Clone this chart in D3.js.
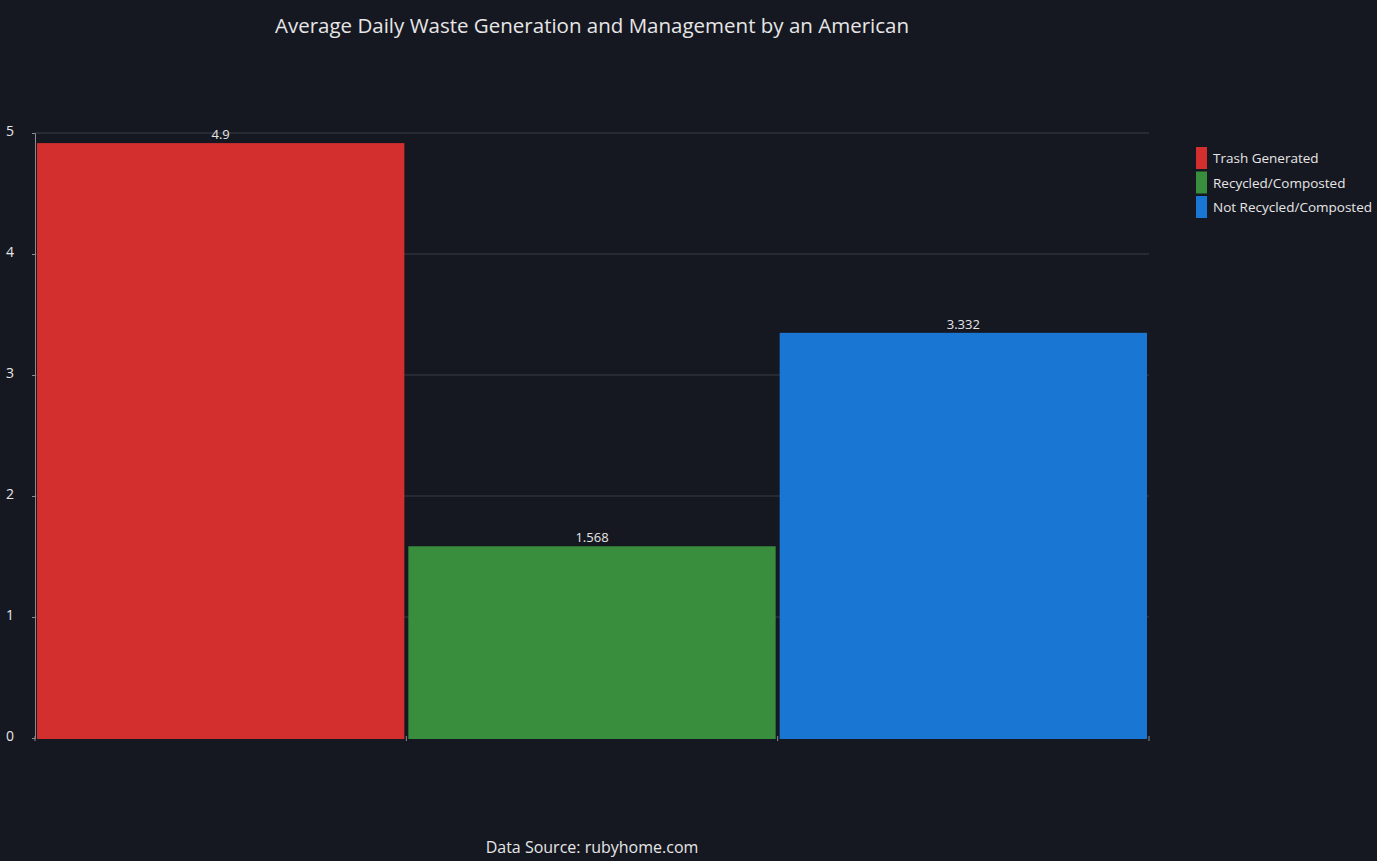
<!DOCTYPE html>
<html>
<head>
<meta charset="utf-8">
<script src="https://cdn.jsdelivr.net/npm/d3@7"></script>
<style>
  body { margin: 0; background: #161821; }
  text { font-family: "Open Sans", "Noto Sans", sans-serif; }
</style>
</head>
<body>
<div id="chart"></div>
<script>
// data
var seriesNames = ["Trash Generated", "Recycled/Composted", "Not Recycled/Composted"];
var seriesValues = [4.9, 1.568, 3.332];
var seriesColors = ["#d32f2f", "#388e3c", "#1976d2"];
var yTicks = [0, 1, 2, 3, 4, 5];

var width = 1377, height = 861;
var plotLeft = 35, plotRight = 1149, plotTop = 133, plotBottom = 738;

var svg = d3.select("#chart").append("svg")
	.attr("width", width)
	.attr("height", height)
	.style("background", "#161821");

var x = d3.scaleBand()
	.domain(seriesNames)
	.range([plotLeft, plotRight])
	.paddingInner(0.0);

var y = d3.scaleLinear()
	.domain([0, 5])
	.range([plotBottom, plotTop]);

// grid lines
svg.append("g")
	.selectAll("line")
	.data(yTicks.slice(1))
	.enter().append("line")
	.attr("x1", plotLeft)
	.attr("x2", plotRight)
	.attr("y1", function(d) { return y(d); })
	.attr("y2", function(d) { return y(d); })
	.style("stroke", "#3a3d46")
	.style("stroke-width", 1);

// bars
svg.append("g")
	.selectAll("rect")
	.data(seriesValues)
	.enter().append("rect")
	.attr("x", function(d, i) { return x(seriesNames[i]) + 2; })
	.attr("width", x.bandwidth() - 4)
	.attr("y", function(d) { return y(d) - 2; })
	.attr("height", function(d) { return y(0) - y(d) + 3; })
	.style("fill", function(d, i) { return seriesColors[i]; });

// value labels
svg.append("g")
	.selectAll("text")
	.data(seriesValues)
	.enter().append("text")
	.attr("x", function(d, i) { return x(seriesNames[i]) + x.bandwidth() / 2; })
	.attr("y", function(d) { return y(d) - 6; })
	.attr("text-anchor", "middle")
	.style("fill", "#e6e6e6")
	.style("font-size", "13px")
	.text(function(d) { return d; });

// y axis
var yAxis = svg.append("g")
	.attr("transform", "translate(" + plotLeft + ",0)")
	.call(d3.axisLeft(y).tickValues(yTicks).tickFormat(d3.format("d")).tickSize(3).tickPadding(16));
yAxis.select(".domain").style("stroke", "#8a8c92");
yAxis.selectAll(".tick line").style("stroke", "#8a8c92");
yAxis.selectAll(".tick text")
	.style("fill", "#e6e6e6")
	.style("font-size", "14px")
	.attr("text-anchor", "start")
	.attr("x", -29)
	.attr("dy", "0.15em");

// x axis ticks at band edges
var xEdges = seriesNames.map(function(d) { return x(d); }).concat([plotRight]);
svg.append("g")
	.selectAll("line")
	.data(xEdges)
	.enter().append("line")
	.attr("x1", function(d) { return d; })
	.attr("x2", function(d) { return d; })
	.attr("y1", plotBottom - 2)
	.attr("y2", plotBottom + 3)
	.style("stroke", "#8a8c92");

// title
svg.append("text")
	.attr("x", 592)
	.attr("y", 33)
	.attr("text-anchor", "middle")
	.style("fill", "#e6e6e6")
	.style("font-size", "20.5px")
	.text("Average Daily Waste Generation and Management by an American");

// source
svg.append("text")
	.attr("x", 592)
	.attr("y", 853)
	.attr("text-anchor", "middle")
	.style("fill", "#e6e6e6")
	.style("font-size", "16px")
	.text("Data Source: rubyhome.com");

// legend
var legend = svg.append("g")
	.selectAll("g")
	.data(seriesNames)
	.enter().append("g")
	.attr("transform", function(d, i) { return "translate(1196," + (147 + i * 24.5) + ")"; });
legend.append("rect")
	.attr("width", 11)
	.attr("height", 22)
	.style("fill", function(d, i) { return seriesColors[i]; });
legend.append("text")
	.attr("x", 17)
	.attr("y", 16)
	.style("fill", "#e6e6e6")
	.style("font-size", "13.5px")
	.text(function(d) { return d; });
</script>
</body>
</html>
